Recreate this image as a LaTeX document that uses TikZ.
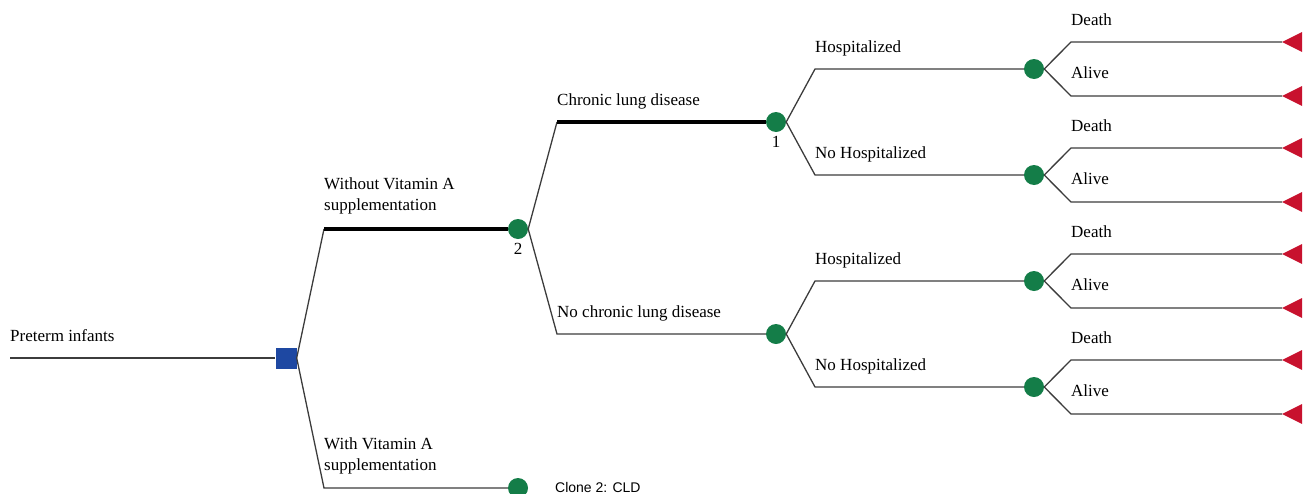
\documentclass[tikz,border=0pt]{standalone}
\usepackage{fontspec}
\setmainfont{Liberation Serif}
\newfontfamily\clonefont{Liberation Sans}
\usetikzlibrary{calc, positioning}
\definecolor{decblue}{RGB}{30,72,162}
\definecolor{chancegreen}{RGB}{20,125,72}
\definecolor{termred}{RGB}{200,18,46}
\definecolor{branchgray}{RGB}{60,60,60}

\tikzset{
	decision/.style={rectangle, fill=decblue, minimum size=21pt, inner sep=0pt},
	chance/.style={circle, fill=chancegreen, minimum size=20pt, inner sep=0pt},
	branch/.style={draw=branchgray, line width=1.3pt},
	chosen/.style={draw=black, line width=3.5pt},
	lbl/.style={anchor=base west, inner sep=0pt, align=left, font=\fontsize{17}{21}\selectfont},
	nodenum/.style={inner sep=0pt, font=\fontsize{17}{21}\selectfont},
}

\begin{document}
\begin{tikzpicture}[x=1pt, y=-1pt]
	\useasboundingbox (0,0) rectangle (1305,493);

	% root decision
	\coordinate (start) at (10,358);
	\node[decision] (root) at (286,358) {};
	\draw[branch] (start) -- (root.west);
	\node[lbl] at (10,341) {Preterm infants};

	% vitamin A strategies
	\coordinate (noA) at (324,229);
	\coordinate (withA) at (324,488);
	\node[chance] (vitno) at (518,229) {};
	\node[chance] (vitclone) at (518,488) {};
	\draw[branch] (root.east) -- (noA);
	\draw[chosen] (noA) -- (vitno.west);
	\draw[branch] (root.east) -- (withA) -- (vitclone.west);
	\node[lbl] at (324,210) {Without Vitamin A\\supplementation};
	\node[lbl] at (324,470) {With Vitamin A\\supplementation};
	\node[nodenum, below=4pt of vitno] {2};
	\node[anchor=base west, inner sep=0pt, font=\clonefont\fontsize{14}{16}\selectfont] at (555,492) {Clone 2: CLD};

	% lung disease
	\coordinate (cldyes) at (557,122);
	\coordinate (cldno) at (557,334);
	\node[chance] (lung) at (776,122) {};
	\node[chance] (nolung) at (776,334) {};
	\draw[branch] (vitno.east) -- (cldyes);
	\draw[chosen] (cldyes) -- (lung.west);
	\draw[branch] (vitno.east) -- (cldno) -- (nolung.west);
	\node[lbl] at (557,105) {Chronic lung disease};
	\node[lbl] at (557,317) {No chronic lung disease};
	\node[nodenum, below=4pt of lung] {1};

	% hospitalization
	\foreach \y/\src/\txt [count=\i] in {69/lung/Hospitalized, 175/lung/No Hospitalized, 281/nolung/Hospitalized, 387/nolung/No Hospitalized} {
		\coordinate (hosp\i) at (815,\y);
		\node[chance] (leaf\i) at (1034,\y) {};
		\draw[branch] (\src.east) -- (hosp\i) -- (leaf\i.west);
		\node[lbl] at (815,\y-17) {\txt};
		% death / alive outcomes
		\coordinate (death\i) at (1071,\y-27);
		\coordinate (alive\i) at (1071,\y+27);
		\coordinate (dtip\i) at (1282,\y-27);
		\coordinate (atip\i) at (1282,\y+27);
		\draw[branch] (leaf\i.east) -- (death\i) -- (dtip\i);
		\draw[branch] (leaf\i.east) -- (alive\i) -- (atip\i);
		\fill[termred] (dtip\i) -- ++(20,-10) -- ++(0,20) -- cycle;
		\fill[termred] (atip\i) -- ++(20,-10) -- ++(0,20) -- cycle;
		\node[lbl] at (1071,\y-44) {Death};
		\node[lbl] at (1071,\y+9) {Alive};
	}
\end{tikzpicture}
\end{document}
